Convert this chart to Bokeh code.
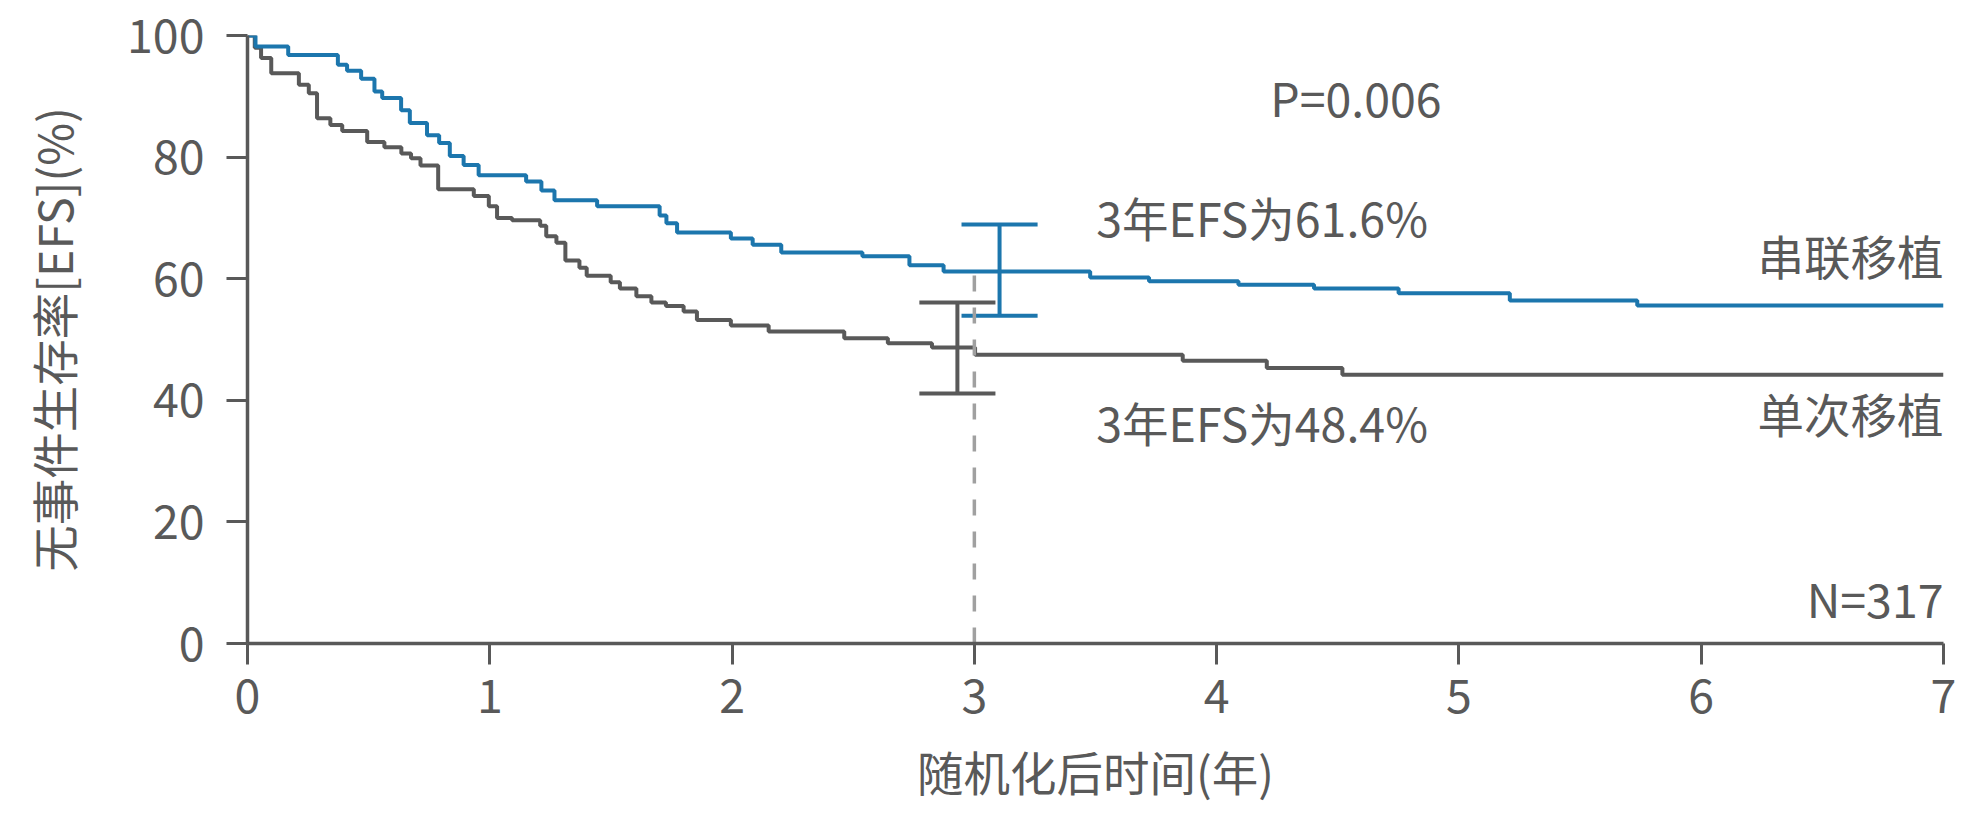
from bokeh.plotting import figure
from bokeh.models import Range1d, FixedTicker
from bokeh.core.properties import value
from bokeh.embed import file_html
from bokeh.resources import INLINE

# ---- data ----
tandem_time = [0, 0.033, 0.168, 0.373, 0.411, 0.469, 0.524, 0.556, 0.634, 0.670,
               0.741, 0.791, 0.835, 0.892, 0.954, 1.150, 1.213, 1.267, 1.443, 1.701,
               1.729, 1.773, 1.995, 2.085, 2.203, 2.538, 2.732, 2.873, 3.478, 3.721,
               4.090, 4.402, 4.751, 5.210, 5.736, 7.0]
tandem_efs = [100, 98.2, 96.8, 95.2, 94.2, 92.9, 90.8, 89.7, 87.7, 85.6,
              83.6, 82.3, 80.2, 78.7, 77.0, 76.0, 74.5, 72.9, 71.9, 70.4,
              69.1, 67.6, 66.6, 65.6, 64.3, 63.7, 62.2, 61.2, 60.2, 59.6,
              59.0, 58.4, 57.6, 56.4, 55.6, 55.6]

single_time = [0, 0.030, 0.056, 0.098, 0.212, 0.253, 0.287, 0.342, 0.391, 0.494,
               0.565, 0.635, 0.675, 0.714, 0.787, 0.934, 0.996, 1.030, 1.092, 1.208,
               1.233, 1.275, 1.312, 1.370, 1.400, 1.499, 1.537, 1.605, 1.667, 1.727,
               1.800, 1.855, 1.995, 2.151, 2.463, 2.643, 2.825, 3.003, 3.860, 4.207,
               4.519, 7.0]
single_efs = [100, 98.0, 96.3, 93.8, 91.9, 90.5, 86.4, 85.3, 84.3, 82.5,
              81.6, 80.6, 79.8, 78.6, 74.7, 73.6, 71.9, 70.0, 69.6, 68.7,
              67.0, 65.9, 63.0, 61.8, 60.5, 59.4, 58.4, 57.1, 56.1, 55.5,
              54.6, 53.2, 52.3, 51.3, 50.2, 49.4, 48.7, 47.5, 46.5, 45.3,
              44.2, 44.2]

# 3-year confidence intervals: [tandem, single]
ci_x = [3.104, 2.930]
ci_lower = [53.9, 41.1]
ci_upper = [68.9, 56.1]
three_year = 3
three_year_efs = 61.6

x_ticks = [0, 1, 2, 3, 4, 5, 6, 7]
y_ticks = [0, 20, 40, 60, 80, 100]

x_label = "随机化后时间(年)"
y_label = "无事件生存率[EFS](%)"
p_text = "P=0.006"
tandem_name = "串联移植"
single_name = "单次移植"
tandem_ann = "3年EFS为61.6%"
single_ann = "3年EFS为48.4%"
n_text = "N=317"

# ---- style ----
FONT = "Noto Sans CJK SC"
GREY = "#595959"
BLUE = "#1c76ad"
DASH = "#a0a0a0"
FS = "46.5px"
CAP_HALF = 0.157
LW = 4

p = figure(width=1977, height=825, output_backend="svg", toolbar_location=None,
           x_range=Range1d(0, 7), y_range=Range1d(0, 100),
           min_border_left=247, min_border_right=34, min_border_top=35,
           min_border_bottom=182)
p.outline_line_color = None
p.xgrid.grid_line_color = None
p.ygrid.grid_line_color = None
p.background_fill_color = "white"
p.border_fill_color = "white"

for ax in (p.xaxis[0], p.yaxis[0]):
    ax.axis_line_color = GREY
    ax.axis_line_width = 3.5
    ax.major_tick_line_color = GREY
    ax.major_tick_line_width = 3
    ax.major_tick_out = 21
    ax.major_tick_in = 0
    ax.minor_tick_line_color = None
    ax.major_label_text_font = FONT
    ax.major_label_text_font_size = FS
    ax.major_label_text_color = GREY
    ax.axis_label_text_font = FONT
    ax.axis_label_text_font_size = FS
    ax.axis_label_text_color = GREY
    ax.axis_label_text_font_style = "normal"

p.xaxis.ticker = FixedTicker(ticks=x_ticks)
p.yaxis.ticker = FixedTicker(ticks=y_ticks)
p.xaxis.axis_label = x_label
p.yaxis.axis_label = y_label
p.xaxis.major_label_standoff = 14
p.yaxis.major_label_standoff = 22
p.xaxis.axis_label_standoff = 21
p.yaxis.axis_label_standoff = 38

# curves
p.step(single_time, single_efs, mode="after", line_color=GREY, line_width=LW)
p.step(tandem_time, tandem_efs, mode="after", line_color=BLUE, line_width=LW)

# confidence bars
ci_colors = [BLUE, GREY]
p.segment(x0=ci_x, y0=ci_lower, x1=ci_x, y1=ci_upper, line_color=ci_colors, line_width=LW)
p.segment(x0=[x - CAP_HALF for x in ci_x], y0=ci_lower,
          x1=[x + CAP_HALF for x in ci_x], y1=ci_lower, line_color=ci_colors, line_width=LW)
p.segment(x0=[x - CAP_HALF for x in ci_x], y0=ci_upper,
          x1=[x + CAP_HALF for x in ci_x], y1=ci_upper, line_color=ci_colors, line_width=LW)

# dashed 3-year marker
p.segment(x0=[three_year], y0=[0], x1=[three_year], y1=[three_year_efs],
          line_color=DASH, line_width=3.5, line_dash="16 16")

def txt(x, y, t, align):
    p.text(x=[x], y=[y], text=[t], text_font=value(FONT), text_font_size=FS,
           text_color=GREY, text_align=align, text_baseline="alphabetic")

txt(4.575, 89.9, p_text, "center")
txt(3.503, 70.25, tandem_ann, "left")
txt(3.503, 36.45, single_ann, "left")
txt(7.0, 63.95, tandem_name, "right")
txt(7.0, 37.95, single_name, "right")
txt(7.0, 7.5, n_text, "right")

open("out.html", "w").write(file_html(p, INLINE))
